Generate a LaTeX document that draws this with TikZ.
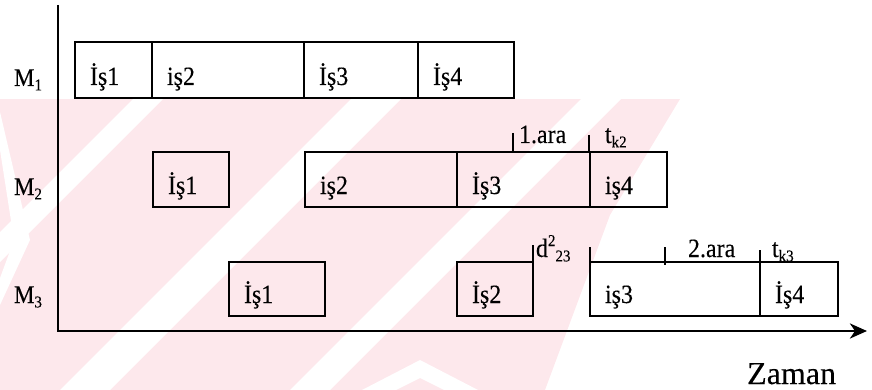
\documentclass[tikz,border=0pt]{standalone}
\usepackage{graphicx}
\usepackage{fontspec}
\setmainfont{Liberation Serif}[FakeBold=0.25]
\usetikzlibrary{arrows.meta}
\definecolor{wmpink}{RGB}{253,232,236}
\newcommand{\setfsz}[1]{\fontsize{#1}{#1}\selectfont}
\newcommand{\tallt}[1]{\scalebox{1}[1.1]{#1}}
\newcommand{\lowsub}[1]{\raisebox{-4pt}{\setfsz{15}#1}}
\newcommand{\highsup}[1]{\raisebox{10pt}{\setfsz{15}#1}}
\newcommand{\jobbox}[6]{%
  \node[jobrect, minimum width=#3-#2, minimum height=#5-#4, anchor=north west] (#1) at (#2,#4) {};
  \node[joblbl] (#1t) at ([shift={(15,-13)}]#1.south west) {\tallt{#6}};
}
\begin{document}
\begin{tikzpicture}[x=1pt,y=-1pt,
  jobrect/.style={draw, line width=2.1pt, inner sep=0pt, outer sep=0pt},
  joblbl/.style={anchor=base west, inner sep=0pt, outer sep=0pt, font=\setfsz{24}},
  toplbl/.style={anchor=base west, inner sep=0pt, outer sep=0pt, font=\setfsz{24}},
  tick/.style={line width=1.1pt},
  axis/.style={line width=1.4pt}]
\useasboundingbox (0,0) rectangle (872,390);
% watermark
\begin{scope}
  \clip (0,99) -- (680,99) -- (610,215) -- (545,390) -- (0,390) -- cycle;
  \fill[wmpink] (0,99) rectangle (680,390);
  \foreach \a/\b in {232/262, 450/500, 680/720}
    \fill[white] (\a-99,99) -- (\b-99,99) -- (\b-390,390) -- (\a-390,390) -- cycle;
  \fill[white] (0,112) -- (30,240) -- (0,305) -- (0,278) -- (14,240) -- (0,150) -- cycle;
  \fill[white] (362,390) -- (420,360) -- (478,390) -- (444,390) -- (420,378) -- (396,390) -- cycle;
\end{scope}
% axes
\coordinate (ytop) at (58,5);
\coordinate (orig) at (58,331);
\coordinate (xstart) at (57,331);
\coordinate (xend) at (867,331);
\draw[axis] (ytop) -- (orig);
\draw[line width=2.8pt, -{Stealth[length=17pt,width=15pt,inset=5pt]}] (xstart) -- (xend);
% machine labels
\node[joblbl, font=\setfsz{23}] (m1) at (14,86) {\tallt{M\lowsub{1}}};
\node[joblbl, font=\setfsz{23}] (m2) at (14,195) {\tallt{M\lowsub{2}}};
\node[joblbl, font=\setfsz{23}] (m3) at (14,303) {\tallt{M\lowsub{3}}};
% row 1
\jobbox{a1}{75}{152}{42}{98}{İş1}
\jobbox{a2}{152}{304}{42}{98}{iş2}
\jobbox{a3}{304}{418}{42}{98}{İş3}
\jobbox{a4}{418}{514}{42}{98}{İş4}
% row 2
\jobbox{b1}{153}{229}{152}{207}{İş1}
\jobbox{b2}{305}{457}{152}{207}{iş2}
\jobbox{b3}{457}{590}{152}{207}{İş3}
\jobbox{b4}{590}{667}{152}{207}{iş4}
% row 3
\jobbox{c1}{229}{325}{262}{316}{İş1}
\jobbox{c2}{457}{533}{262}{316}{İş2}
\jobbox{c3}{590}{760}{262}{316}{iş3}
\jobbox{c4}{760}{838}{262}{316}{İş4}
% ticks
\draw[tick] (513,133) -- (513,152);
\draw[tick] (589,135) -- (589,152);
\draw[tick] (c2.north east) -- ++(0,-17);
\draw[tick] (c3.north west) -- ++(0,-15);
\draw[tick] (665,247) -- (665,265);
\draw[tick] (c4.north west) -- ++(0,-12);
% labels above
\node[toplbl] (ara1) at (519,143) {\tallt{1.ara}};
\node[toplbl] (tk2) at (605,143) {\tallt{t\lowsub{k2}}};
\node[toplbl] (d23) at (536,257) {\tallt{d\highsup{2}\lowsub{23}}};
\node[toplbl] (ara2) at (688,257) {\tallt{2.ara}};
\node[toplbl] (tk3) at (772,257) {\tallt{t\lowsub{k3}}};
\node[anchor=base west, inner sep=0pt, font=\setfsz{32}] (zaman) at (747,384) {Zaman};
\end{tikzpicture}
\end{document}
